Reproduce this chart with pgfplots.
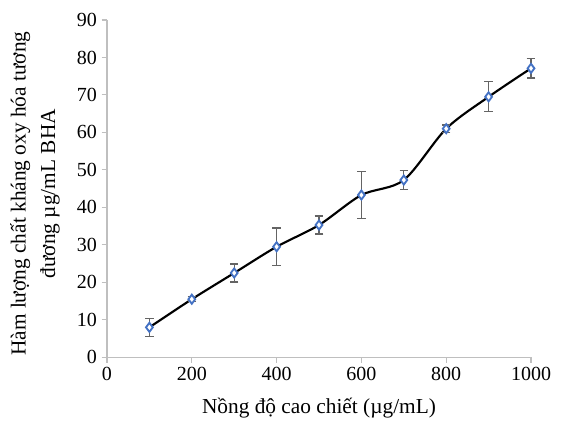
\documentclass[border=0pt]{standalone}
\usepackage{pgfplots}
\pgfplotsset{compat=1.18}
\usepackage{fontspec}
\setmainfont{Liberation Serif}
\definecolor{axgray}{RGB}{191,191,191}
\definecolor{barg}{RGB}{100,100,100}
\definecolor{mkblue}{RGB}{68,114,196}

\begin{document}
\begin{tikzpicture}
\begin{axis}[
    scale only axis,
    width=318pt, height=253pt,
    xmin=0, xmax=1000,
    ymin=0, ymax=90,
    xtick={0,200,400,600,800,1000},
    ytick={0,10,20,30,40,50,60,70,80,90},
    axis lines*=left,
    axis line style={axgray, line width=1.1pt},
    tick style={axgray, line width=0.8pt},
    tick align=outside,
    major tick length=4pt,
    tick label style={font=\fontsize{15}{17}\selectfont},
    label style={font=\fontsize{16}{22}\selectfont},
    /pgf/number format/assume math mode=true,
    /pgf/number format/1000 sep={},
    xlabel={Nồng độ cao chiết (µg/mL)},
    ylabel={Hàm lượng chất kháng oxy hóa tương\\đương µg/mL BHA},
    xlabel style={at={(axis description cs:0.5,-0.15)}, anchor=center},
    ylabel style={at={(axis description cs:-0.17,0.485)}, anchor=center, align=center},
    clip=false,
]
\addplot[black, line width=1.6pt, smooth, tension=0.5,
    mark=diamond*, mark size=3.4pt,
    mark options={fill=white, draw=mkblue, line width=1.4pt, solid},
    error bars/.cd, y dir=both, y explicit,
    error bar style={barg, line width=0.9pt},
    error mark options={barg, line width=0.9pt, mark size=3.2pt, rotate=90}]
    coordinates {
    (100, 8.0) +- (0, 2.4)
    (200, 15.5) +- (0, 0.7)
    (300, 22.5) +- (0, 2.4)
    (400, 29.5) +- (0, 5.0)
    (500, 35.3) +- (0, 2.4)
    (600, 43.3) +- (0, 6.2)
    (700, 47.3) +- (0, 2.6)
    (800, 61.0) +- (0, 1.0)
    (900, 69.5) +- (0, 4.0)
    (1000, 77.1) +- (0, 2.6)
    };
\end{axis}
\pgfresetboundingbox
\useasboundingbox ([shift={(-80.25pt,-49.5pt)}]current axis.south west) rectangle ([shift={(23.25pt,15pt)}]current axis.north east);
\end{tikzpicture}
\end{document}
